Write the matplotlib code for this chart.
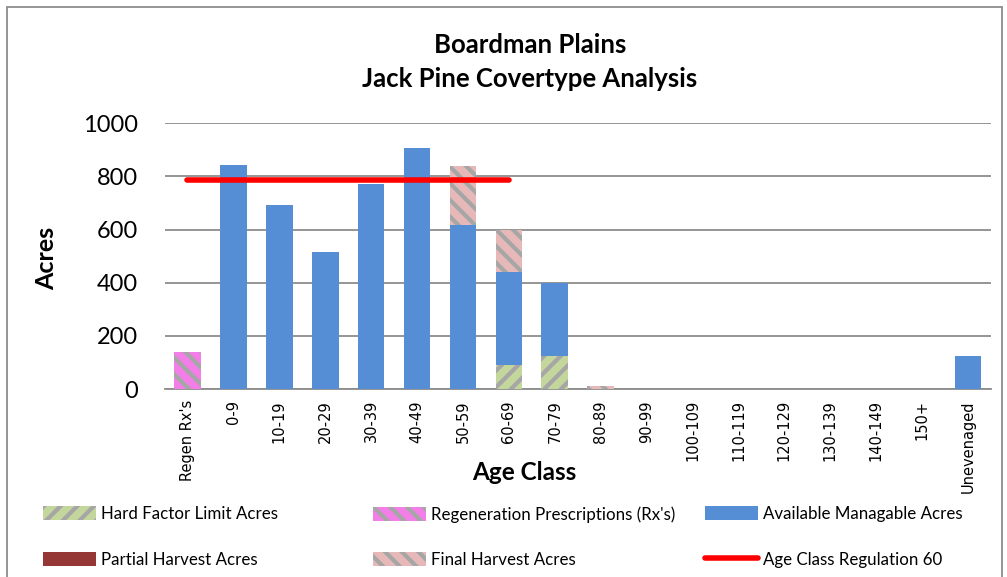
import matplotlib
matplotlib.use("Agg")
import matplotlib.pyplot as plt
from matplotlib.patches import Rectangle, Patch
from matplotlib.lines import Line2D
import numpy as np

categories = ["Regen Rx's", "0-9", "10-19", "20-29", "30-39", "40-49", "50-59", "60-69",
              "70-79", "80-89", "90-99", "100-109", "110-119", "120-129", "130-139",
              "140-149", "150+", "Unevenaged"]
hard_factor = [0, 0, 0, 0, 0, 0, 0, 90, 125, 0, 0, 0, 0, 0, 0, 0, 0, 0]
regen_rx = [140, 0, 0, 0, 0, 0, 0, 0, 0, 0, 0, 0, 0, 0, 0, 0, 0, 0]
available = [0, 842, 692, 515, 773, 906, 617, 351, 275, 0, 0, 0, 0, 0, 0, 0, 0, 125]
partial = [0] * 18
final_harvest = [0, 0, 0, 0, 0, 0, 221, 159, 0, 12, 0, 0, 0, 0, 0, 0, 0, 0]
regulation = [786, 786, 786, 786, 786, 786, 786, 786]

plt.rcParams['hatch.linewidth'] = 3.0
W, H = 1007, 577
fig = plt.figure(figsize=(W / 100, H / 100), dpi=100)
ax = fig.add_axes([164.5 / W, 1 - 389 / H, (991 - 164.5) / W, (389 - 123.3) / H])

x = np.arange(len(categories))
bw = 0.58
grey = '#A6A6A6'
series = [
    (hard_factor, '#C3D69B', '//', "Hard Factor Limit Acres"),
    (regen_rx, '#F47EE8', '\\\\', "Regeneration Prescriptions (Rx's)"),
    (available, '#558ED5', None, "Available Managable Acres"),
    (partial, '#953735', None, "Partial Harvest Acres"),
    (final_harvest, '#E6B9B8', '\\\\', "Final Harvest Acres"),
]
bottom = np.zeros(len(categories))
handles = {}
for vals, col, hatch, lab in series:
    v = np.array(vals, dtype=float)
    if hatch:
        ax.bar(x, v, bw, bottom=bottom, color=col, edgecolor=grey, linewidth=0, hatch=hatch, zorder=3)
        handles[lab] = Patch(facecolor=col, edgecolor=grey, linewidth=0, hatch=hatch, label=lab)
    else:
        ax.bar(x, v, bw, bottom=bottom, color=col, linewidth=0, zorder=3)
        handles[lab] = Patch(facecolor=col, linewidth=0, label=lab)
    bottom += v

ax.plot(x[:len(regulation)], regulation, color='#FF0000', lw=4, solid_capstyle='round', zorder=4)
handles["Age Class Regulation 60"] = Line2D([], [], color='#FF0000', lw=4, solid_capstyle='round')

ax.set_xlim(-0.5, len(categories) - 0.5)
ax.set_ylim(0, 1000)
ax.set_yticks(range(0, 1001, 200))
ax.yaxis.grid(True, color='#8C8C8C', lw=1.3, zorder=0)
ax.set_axisbelow(True)
for s in ['left', 'right', 'top']:
    ax.spines[s].set_visible(False)
ax.spines['bottom'].set_color('#8C8C8C')
ax.spines['bottom'].set_linewidth(1.3)
ax.tick_params(axis='y', length=0, pad=19, labelsize=17)
for t in ax.get_yticklabels():
    t.set_family('Lato')
ax.set_xticks(x)
ax.set_xticklabels(categories, rotation=90, family='DejaVu Sans', fontsize=10.5)
ax.tick_params(axis='x', length=0, pad=8)

fig.text(47 / W, 1 - 258 / H, "Acres", rotation=90, ha='center', va='center',
         family='Lato', fontweight='bold', fontsize=18)
fig.text(524 / W, 1 - 473 / H, "Age Class", ha='center', va='center',
         family='Lato', fontweight='bold', fontsize=17.5)
fig.text(530 / W, 1 - 45 / H, "Boardman Plains", ha='center', va='center',
         family='Lato', fontweight='bold', fontsize=18.5)
fig.text(530 / W, 1 - 79 / H, "Jack Pine Covertype Analysis", ha='center', va='center',
         family='Lato', fontweight='bold', fontsize=18.5)

cols = [
    (["Hard Factor Limit Acres", "Partial Harvest Acres"], 43),
    (["Regeneration Prescriptions (Rx's)", "Final Harvest Acres"], 373),
    (["Available Managable Acres", "Age Class Regulation 60"], 705),
]
for labs, xpos in cols:
    fig.legend([handles[l] for l in labs], labs, loc='upper left',
               bbox_to_anchor=(xpos / W, 1 - 506 / H), frameon=False,
               prop={'family': 'Lato', 'size': 12.2}, handlelength=3.1,
               handleheight=0.9, handletextpad=0.3, labelspacing=1.75,
               borderpad=0, borderaxespad=0)

fig.patches.append(Rectangle((7 / W, -0.1), (1002 - 7) / W, 1.1 - 7 / H, transform=fig.transFigure,
                             fill=False, edgecolor='#8C8C8C', lw=1.3))
fig.savefig("out.png", dpi=100)
